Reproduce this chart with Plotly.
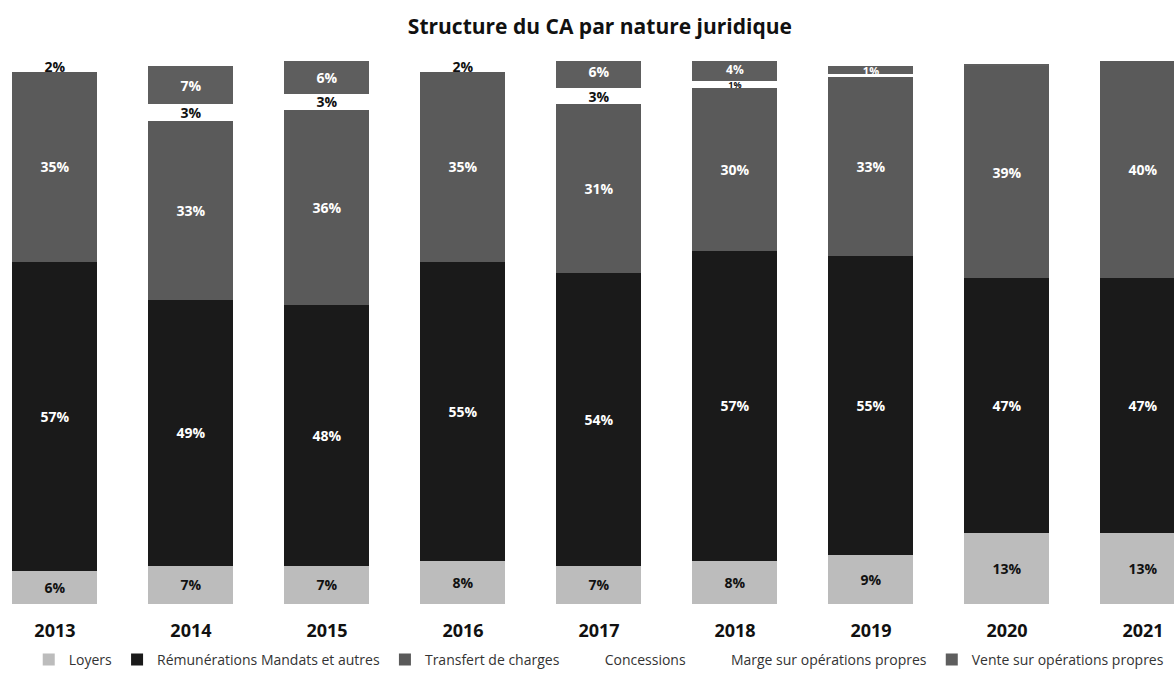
import plotly.graph_objects as go

years = ["2013", "2014", "2015", "2016", "2017", "2018", "2019", "2020", "2021"]
loyers = [6, 7, 7, 8, 7, 8, 9, 13, 13]
remunerations = [57, 49, 48, 55, 54, 57, 55, 47, 47]
transfert = [35, 33, 36, 35, 31, 30, 33, 39, 40]
concessions = [0, 0, 0, 0, 0, 0, 0, 0, 0]
marge = [2, 3, 3, 2, 3, 1.4, 0.6, 0, 0]
vente = [0, 7, 6, 0, 6, 4, 1.4, 0.5, 0]

series = [
    ("Loyers", loyers, "#bcbcbc", "#111111"),
    ("Rémunérations Mandats et autres", remunerations, "#1a1a1a", "#ffffff"),
    ("Transfert de charges", transfert, "#5a5a5a", "#ffffff"),
    ("Concessions", concessions, "#ffffff", "#111111"),
    ("Marge sur opérations propres", marge, "#ffffff", "#111111"),
    ("Vente sur opérations propres", vente, "#5e5e5e", "#ffffff"),
]


def label_size(v, name, i):
    if 0 < v < 1.5:
        return 9 if name.startswith("Marge") else 11
    if name.startswith("Vente") and years[i] == "2018":
        return 12
    return 14


fig = go.Figure()
for name, vals, color, tcolor in series:
    labels = [f"{round(v):d}%" if v >= 1 else "" for v in vals]
    sizes = [label_size(v, name, i) for i, v in enumerate(vals)]
    fig.add_trace(go.Bar(
        name=name, x=years, y=vals,
        marker=dict(color=color, line=dict(width=0)),
        text=labels, textposition="inside", insidetextanchor="middle",
        constraintext="none", textangle=0,
        textfont=dict(family="Open Sans", size=sizes, color=tcolor, weight="bold"),
        hoverinfo="skip",
    ))

fig.update_layout(
    width=1174, height=682,
    barmode="stack", bargap=0.375,
    paper_bgcolor="white", plot_bgcolor="white",
    margin=dict(l=0, r=0, t=61, b=78),
    title=dict(text="<b>Structure du CA par nature juridique</b>",
               x=0.511, xanchor="center", y=1 - 27 / 682, yanchor="middle",
               font=dict(family="Open Sans", size=21, color="#111111")),
    legend=dict(orientation="h", traceorder="normal",
                x=0.51, xanchor="center", yref="container",
                y=1 - 660 / 682, yanchor="middle",
                font=dict(family="Open Sans", size=14, color="#333333"),
                itemwidth=30, bgcolor="rgba(0,0,0,0)"),
    xaxis=dict(type="category", range=[-0.404, 8.228], showgrid=False,
               showline=False, zeroline=False, ticks="",
               ticklabelstandoff=14,
               tickfont=dict(family="Open Sans", size=18, color="#111111", weight="bold")),
    yaxis=dict(range=[0, 100], visible=False, showgrid=False, zeroline=False),
)

fig.write_html("out.html")
